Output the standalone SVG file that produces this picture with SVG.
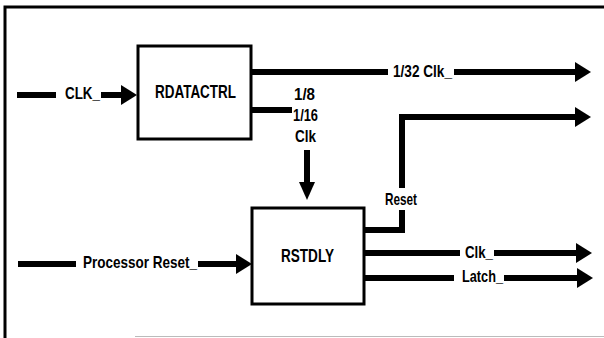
<svg xmlns="http://www.w3.org/2000/svg" width="604" height="338" viewBox="0 0 604 338">
<style>
.box{fill:#fff;stroke:#000;stroke-width:3}
.w{stroke:#000;stroke-width:6;fill:none;stroke-linecap:butt}
.t{font-family:"Liberation Sans",Arial,sans-serif;font-weight:bold;font-size:17px;fill:#000}
.b{font-size:18px}
.frame{stroke:#000;stroke-width:3;fill:none}
</style>
<defs>
<marker id="ah" markerUnits="userSpaceOnUse" markerWidth="16" markerHeight="20" refX="1" refY="10" orient="auto">
<path d="M0,0 L16,10 L0,20 z" fill="#000"/>
</marker>
</defs>
<rect width="604" height="338" fill="#fff"/>
<g id="frame">
<path class="frame" d="M5,338 V7 H604"/>
<line x1="135" y1="336.5" x2="604" y2="336.5" stroke="#bbb" stroke-width="1"/>
</g>
<g id="connectors">
<line class="w" x1="17" y1="95" x2="56" y2="95"/>
<line class="w" x1="101" y1="95" x2="122" y2="95" marker-end="url(#ah)"/>
<line class="w" x1="251" y1="72" x2="388" y2="72"/>
<line class="w" x1="454" y1="72" x2="576" y2="72" marker-end="url(#ah)"/>
<line class="w" x1="251" y1="110" x2="292" y2="110"/>
<line class="w" x1="307" y1="150" x2="307" y2="183"/>
<path d="M299,182 L307,200 L315,182 z" fill="#000"/>
<line class="w" x1="18" y1="264" x2="76" y2="264"/>
<line class="w" x1="198" y1="264" x2="237" y2="264" marker-end="url(#ah)"/>
<path class="w" d="M364,230 H402 V210"/>
<path class="w" d="M402,188 V117 H576" marker-end="url(#ah)"/>
<line class="w" x1="364" y1="253" x2="460" y2="253"/>
<line class="w" x1="494" y1="253" x2="577" y2="253" marker-end="url(#ah)"/>
<line class="w" x1="364" y1="278" x2="454" y2="278"/>
<line class="w" x1="504" y1="278" x2="578" y2="278" marker-end="url(#ah)"/>
</g>
<g id="rdatactrl">
<rect class="box" x="138" y="46" width="113" height="93"/>
<text class="t b" x="155" y="98" textLength="81" lengthAdjust="spacingAndGlyphs">RDATACTRL</text>
</g>
<g id="rstdly">
<rect class="box" x="252" y="208" width="112" height="96"/>
<text class="t b" x="281" y="262" textLength="53" lengthAdjust="spacingAndGlyphs">RSTDLY</text>
</g>
<g id="labels">
<text class="t" x="65" y="99" textLength="35" lengthAdjust="spacingAndGlyphs">CLK_</text>
<text class="t" x="393" y="77" textLength="59" lengthAdjust="spacingAndGlyphs">1/32 Clk_</text>
<text class="t" x="294" y="100" textLength="21" lengthAdjust="spacingAndGlyphs">1/8</text>
<text class="t" x="293" y="121" textLength="25" lengthAdjust="spacingAndGlyphs">1/16</text>
<text class="t" x="295" y="142" textLength="21" lengthAdjust="spacingAndGlyphs">Clk</text>
<text class="t" x="83" y="268" textLength="114" lengthAdjust="spacingAndGlyphs">Processor Reset_</text>
<text class="t" x="385" y="205" textLength="32" lengthAdjust="spacingAndGlyphs">Reset</text>
<text class="t" x="465" y="258" textLength="28" lengthAdjust="spacingAndGlyphs">Clk_</text>
<text class="t" x="462" y="282" textLength="41" lengthAdjust="spacingAndGlyphs">Latch_</text>
</g>
</svg>
